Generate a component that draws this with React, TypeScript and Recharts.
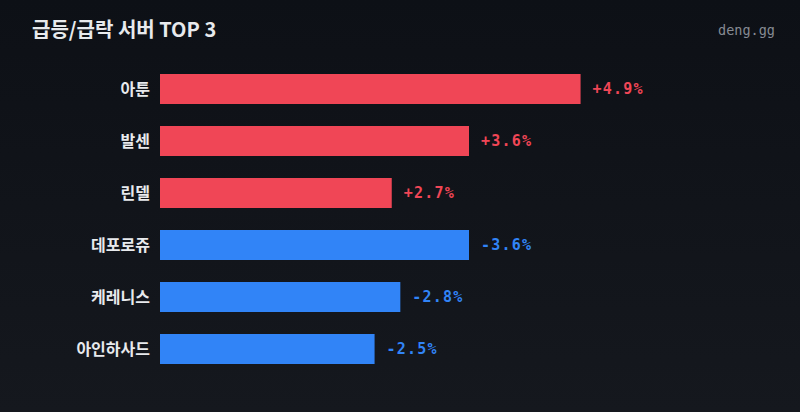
import { BarChart, Bar, XAxis, YAxis, Cell, LabelList } from 'recharts'

const servers = ['아툰', '발센', '린델', '데포로쥬', '케레니스', '아인하사드']
const changes = [4.9, 3.6, 2.7, -3.6, -2.8, -2.5]

const UP = '#f04656'
const DOWN = '#3184f7'

const data = servers.map((name, i) => ({ name, change: changes[i], size: Math.abs(changes[i]) }))

const mono = '"DejaVu Sans Mono", monospace'
const kr = '"Noto Sans CJK KR", "Noto Sans", sans-serif'

function ValueLabel(props: any) {
  const { x, y, width, height, index } = props
  const v = changes[index]
  const txt = (v > 0 ? '+' : '') + v.toFixed(1) + '%'
  return (
    <text x={x + width + 12} y={y + height / 2} dy={5} fill={v > 0 ? UP : DOWN}
      fontFamily={mono} fontSize={15} fontWeight={600} letterSpacing={1.2}>{txt}</text>
  )
}

export default function App() {
  return (
    <div style={{ position: 'absolute', left: 0, top: 0, width: 800, height: 412,
      background: 'linear-gradient(180deg, #0d1016 0%, #15181e 100%)', overflow: 'hidden' }}>
      <div style={{ position: 'absolute', left: 32, top: 14, color: '#e8eaed', fontFamily: kr,
        fontSize: 20, fontWeight: 700 }}>급등/급락 서버 TOP 3</div>
      <div style={{ position: 'absolute', right: 25, top: 22, color: '#868b93', fontFamily: mono,
        fontSize: 13.5 }}>deng.gg</div>
      <BarChart width={800} height={412} data={data} layout="vertical"
        margin={{ top: 63, right: 125, bottom: 37, left: 0 }} barCategoryGap={22}>
        <XAxis type="number" domain={[0, 6]} hide />
        <YAxis type="category" dataKey="name" width={160} axisLine={false} tickLine={false}
          tickSize={0} tickMargin={10}
          tick={{ fill: '#e8eaed', fontSize: 16, fontWeight: 700, fontFamily: kr }} />
        <Bar dataKey="size" barSize={30} isAnimationActive={false}>
          {data.map((d, i) => <Cell key={i} fill={d.change > 0 ? UP : DOWN} />)}
          <LabelList dataKey="size" content={ValueLabel} />
        </Bar>
      </BarChart>
    </div>
  )
}
